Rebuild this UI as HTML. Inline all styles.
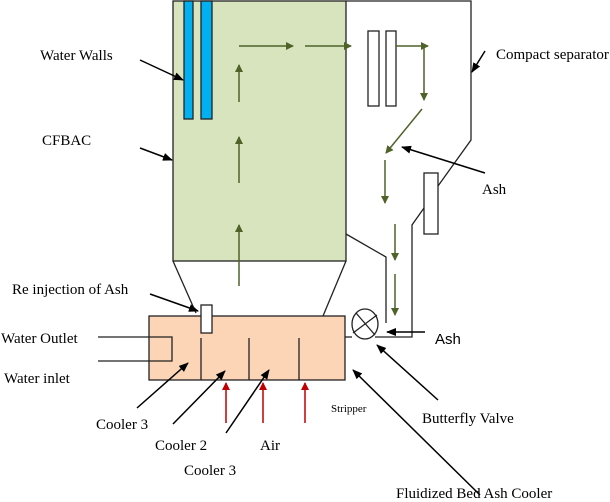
<!DOCTYPE html>
<html><head><style>body{margin:0;background:#fff}svg{display:block}</style></head><body>
<svg width="610" height="502" viewBox="0 0 610 502" xmlns="http://www.w3.org/2000/svg" font-family="Liberation Serif, serif" font-size="15">
<defs>
<marker id="g" markerWidth="8" markerHeight="8" refX="7" refY="4" orient="auto" markerUnits="userSpaceOnUse"><path d="M0,0L8,4L0,8z" fill="#4f6228"/></marker>
<marker id="k" markerWidth="10" markerHeight="8" refX="9" refY="4" orient="auto" markerUnits="userSpaceOnUse"><path d="M0,0L10,4L0,8z" fill="#000"/></marker>
<marker id="r" markerWidth="8" markerHeight="9" refX="7" refY="4" orient="auto" markerUnits="userSpaceOnUse"><path d="M0,0L8,4L0,8z" fill="#c00000"/></marker>
</defs>
<g stroke="#222" stroke-width="1.3" fill="none">
<rect x="173" y="1" width="173" height="260" fill="#d7e4bd"/>
<rect x="184" y="1" width="9" height="118" fill="#00b0f0"/>
<rect x="201" y="1" width="11" height="118" fill="#00b0f0"/>
<polyline points="346,1 471,1 471,140 438,186"/>
<rect x="424" y="173" width="14" height="61" fill="#fff"/>
<polyline points="424,208 412,225 412,337 375,337"/>
<polyline points="346,234 386,257 386,323"/>
<rect x="368" y="31" width="11" height="75" fill="#fff"/>
<rect x="386" y="31" width="10" height="75" fill="#fff"/>
<line x1="173" y1="261" x2="196" y2="313"/>
<line x1="346" y1="261" x2="323" y2="316"/>
<rect x="149" y="316" width="196" height="64" fill="#fbd5b5"/>
<rect x="201" y="305" width="11" height="28" fill="#fff"/>
<line x1="201" y1="338" x2="201" y2="380"/>
<line x1="249" y1="338" x2="249" y2="380"/>
<line x1="299" y1="338" x2="299" y2="380"/>
<polyline points="98,337 172,337 172,361 98,361"/>
<line x1="345" y1="337" x2="352" y2="337"/>
<ellipse cx="365" cy="324" rx="13" ry="15" fill="#fff"/>
<line x1="356" y1="313" x2="375" y2="335"/>
<line x1="353" y1="333" x2="377" y2="315"/>
</g>
<g stroke="#4f6228" stroke-width="1.5" marker-end="url(#g)">
<line x1="239" y1="46" x2="293" y2="46"/>
<line x1="305" y1="46" x2="351" y2="46"/>
<line x1="396" y1="46" x2="428" y2="46"/>
<line x1="424" y1="46" x2="424" y2="100"/>
<line x1="422" y1="109" x2="386" y2="153"/>
<line x1="385" y1="160" x2="385" y2="203"/>
<line x1="395" y1="224" x2="395" y2="260"/>
<line x1="395" y1="274" x2="395" y2="315"/>
<line x1="239" y1="102" x2="239" y2="65"/>
<line x1="239" y1="183" x2="239" y2="137"/>
<line x1="239" y1="286" x2="239" y2="225"/>
</g>
<g stroke="#c00000" stroke-width="1.5" marker-end="url(#r)">
<line x1="226" y1="423" x2="226" y2="383"/>
<line x1="263" y1="423" x2="263" y2="383"/>
<line x1="305" y1="423" x2="305" y2="383"/>
</g>
<g stroke="#000" stroke-width="1.5" marker-end="url(#k)">
<line x1="140" y1="60" x2="183" y2="80"/>
<line x1="140" y1="148" x2="172" y2="160"/>
<line x1="485" y1="51" x2="472" y2="72"/>
<line x1="485" y1="173" x2="402" y2="147"/>
<line x1="150" y1="294" x2="198" y2="311"/>
<line x1="425" y1="332" x2="387" y2="332"/>
<line x1="438" y1="400" x2="377" y2="345"/>
<line x1="480" y1="495" x2="353" y2="370"/>
<line x1="137" y1="408" x2="188" y2="363"/>
<line x1="173" y1="424" x2="225" y2="371"/>
<line x1="226" y1="433" x2="269" y2="370"/>
</g>
<g fill="#000">
<text x="40" y="60">Water Walls</text>
<text x="42" y="145">CFBAC</text>
<text x="496" y="59">Compact separator</text>
<text x="482" y="194">Ash</text>
<text x="12" y="294">Re injection of Ash</text>
<text x="1" y="343">Water Outlet</text>
<text x="4" y="383">Water inlet</text>
<text x="435" y="344" font-family="Liberation Sans, sans-serif">Ash</text>
<text x="96" y="429">Cooler 3</text>
<text x="155" y="450">Cooler 2</text>
<text x="260" y="450">Air</text>
<text x="184" y="475">Cooler 3</text>
<text x="331" y="412" font-size="11">Stripper</text>
<text x="422" y="423">Butterfly  Valve</text>
<text x="396" y="498">Fluidized Bed Ash Cooler</text>
</g>
</svg>
</body></html>
